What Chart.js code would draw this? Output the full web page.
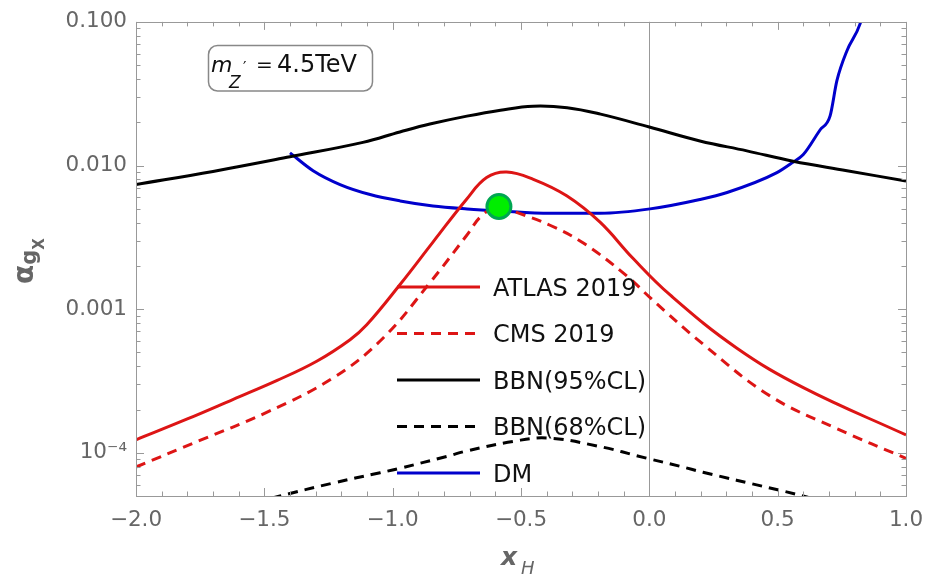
<!DOCTYPE html>
<html>
<head>
<meta charset="utf-8">
<script src="https://cdn.jsdelivr.net/npm/chart.js@4.4.0/dist/chart.umd.min.js"></script>
<style>
  html, body { margin: 0; padding: 0; background: #fff; }
</style>
</head>
<body>
<canvas id="chart" width="941" height="577"></canvas>
<script>
// curves (x_H, alpha_gX)
const atlasX = [-2.0, -1.8, -1.621, -1.45, -1.296, -1.166, -1.101, -0.972, -0.843, -0.712, -0.634, -0.556, -0.452, -0.322, -0.192, -0.063, 0.081, 0.340, 0.600, 1.0];
const atlasY = [1.232e-4, 1.72e-4, 2.357e-4, 3.19e-4, 4.34e-4, 6.13e-4, 7.78e-4, 1.478e-3, 2.93e-3, 5.83e-3, 8.24e-3, 9.02e-3, 8.02e-3, 6.16e-3, 4.03e-3, 2.25e-3, 1.255e-3, 5.37e-4, 2.84e-4, 1.33e-4];

const cmsX = [-2.0, -1.751, -1.491, -1.231, -1.037, -0.855, -0.712, -0.653, -0.586, -0.517, -0.387, -0.257, -0.088, 0.003, 0.210, 0.470, 0.730, 1.0];
const cmsY = [7.96e-5, 1.219e-4, 1.91e-4, 3.33e-4, 6.3e-4, 1.527e-3, 3.257e-3, 4.478e-3, 5.19e-3, 4.72e-3, 3.838e-3, 2.884e-3, 1.706e-3, 1.202e-3, 5.69e-4, 2.49e-4, 1.474e-4, 9.15e-5];

const bbn95X = [-2.0, -1.7, -1.4, -1.116, -0.972, -0.855, -0.711, -0.58, -0.453, -0.32, -0.19, 0.0, 0.197, 0.38, 0.56, 0.77, 1.0];
const bbn95Y = [0.00737, 0.0091, 0.0115, 0.01449, 0.01712, 0.01944, 0.02208, 0.02429, 0.02588, 0.02527, 0.02279, 0.01853, 0.01483, 0.01265, 0.01071, 0.00921, 0.00779];

const bbn68X = [-1.6, -1.439, -1.233, -1.049, -0.972, -0.788, -0.710, -0.531, -0.399, -0.204, -0.009, 0.120, 0.209, 0.470, 0.599, 0.75];
const bbn68Y = [4.2e-5, 5.0e-5, 6.15e-5, 7.26e-5, 7.8e-5, 9.44e-5, 1.031e-4, 1.199e-4, 1.268e-4, 1.116e-4, 9.15e-5, 8.05e-5, 7.32e-5, 5.68e-5, 5.0e-5, 4.2e-5];

const dmX = [-1.400, -1.310, -1.205, -1.088, -0.971, -0.843, -0.710, -0.582, -0.387, -0.192, 0.003, 0.197, 0.303, 0.497, 0.556, 0.599, 0.665, 0.704, 0.731, 0.770, 0.821, 0.826];
const dmY = [0.01226, 0.00920, 0.00737, 0.00628, 0.00567, 0.00523, 0.00499, 0.00483, 0.00465, 0.00465, 0.00499, 0.00580, 0.00649, 0.00892, 0.01045, 0.01187, 0.01767, 0.02207, 0.03913, 0.0630, 0.0969, 0.105];

const benchX = [-0.586];
const benchY = [0.00519];

const xTickVals = [-2, -1.5, -1, -0.5, 0, 0.5, 1];
const xTickLabels = ['\u22122.0', '\u22121.5', '\u22121.0', '\u22120.5', '0.0', '0.5', '1.0'];
const yTickVals = [1e-4, 1e-3, 1e-2, 1e-1];
const yTickLabels = ['10\u207B\u2074', '0.001', '0.010', '0.100'];

const FONT = "'DejaVu Sans', sans-serif";
const GRAY = '#666';
const EDGE = '#999';

function pts(xs, ys) {
    return xs.map((x, i) => ({ x: x, y: ys[i] }));
}

function curve(label, xs, ys, color, dash, smooth) {
    return {
        label: label,
        data: pts(xs, ys),
        borderColor: color,
        borderWidth: 3,
        borderDash: dash,
        pointRadius: 0,
        fill: false,
        tension: 0.4,
        cubicInterpolationMode: smooth,
        order: 2
    };
}

const datasets = [
    curve('ATLAS 2019', atlasX, atlasY, '#dd1515', [], 'default'),
    curve('CMS 2019', cmsX, cmsY, '#dd1515', [10, 7], 'default'),
    curve('BBN(95%CL)', bbn95X, bbn95Y, '#000', [], 'default'),
    curve('BBN(68%CL)', bbn68X, bbn68Y, '#000', [10, 7], 'default'),
    curve('DM', dmX, dmY, '#0000cc', [], 'monotone'),
    {
        label: 'point',
        data: pts(benchX, benchY),
        showLine: false,
        pointRadius: 12,
        pointBackgroundColor: '#00ee00',
        pointBorderColor: '#00a651',
        pointBorderWidth: 3,
        order: 0,
        noLegend: true
    }
];

// frame with inward ticks, zero line, legend, label box, axis titles
const decor = {
    id: 'decor',
    beforeDatasetsDraw(chart) {
        const { ctx, chartArea: a, scales: { x } } = chart;
        const x0 = Math.round(x.getPixelForValue(0)) + 0.5;
        ctx.save();
        ctx.strokeStyle = EDGE;
        ctx.lineWidth = 1;
        ctx.beginPath();
        ctx.moveTo(x0, a.top);
        ctx.lineTo(x0, a.bottom);
        ctx.stroke();
        ctx.restore();
    },
    afterDraw(chart) {
        const { ctx, chartArea: a, scales: { x, y } } = chart;
        ctx.save();
        ctx.strokeStyle = EDGE;
        ctx.lineWidth = 1;
        ctx.strokeRect(Math.round(a.left) + 0.5, Math.round(a.top) + 0.5,
            Math.round(a.right - a.left), Math.round(a.bottom - a.top));

        ctx.beginPath();
        for (let k = -20; k <= 10; k++) {
            const px = Math.round(x.getPixelForValue(k / 10)) + 0.5;
            const len = (k % 5 === 0) ? 8 : 4.5;
            ctx.moveTo(px, a.bottom); ctx.lineTo(px, a.bottom - len);
            ctx.moveTo(px, a.top); ctx.lineTo(px, a.top + len);
        }
        for (let e = -5; e <= -1; e++) {
            for (let m = 1; m <= 9; m++) {
                const v = m * Math.pow(10, e);
                if (v < y.min * 0.999 || v > y.max * 1.001) continue;
                const py = Math.round(y.getPixelForValue(v)) + 0.5;
                const len = (m === 1) ? 8 : 4.5;
                ctx.moveTo(a.left, py); ctx.lineTo(a.left + len, py);
                ctx.moveTo(a.right, py); ctx.lineTo(a.right - len, py);
            }
        }
        ctx.stroke();

        // legend
        const rows = chart.data.datasets.filter(d => !d.noLegend);
        rows.forEach((d, i) => {
            const ry = 287 + i * 46.5;
            ctx.strokeStyle = d.borderColor;
            ctx.lineWidth = 3;
            ctx.setLineDash(d.borderDash);
            ctx.beginPath();
            ctx.moveTo(397, ry);
            ctx.lineTo(480, ry);
            ctx.stroke();
            ctx.setLineDash([]);
            ctx.fillStyle = '#111';
            ctx.font = '24px ' + FONT;
            ctx.textBaseline = 'alphabetic';
            ctx.textAlign = 'left';
            ctx.fillText(d.label, 493, ry + 8.8);
        });

        // m_Z' label box
        ctx.strokeStyle = '#888';
        ctx.lineWidth = 1.5;
        ctx.beginPath();
        ctx.roundRect(208.5, 45.5, 164, 45.5, 9);
        ctx.stroke();
        ctx.fillStyle = '#111';
        ctx.font = 'italic 22px ' + FONT;
        ctx.fillText('m', 211, 72);
        ctx.font = 'italic 17px ' + FONT;
        ctx.fillText('Z', 229, 88);
        ctx.font = '15px ' + FONT;
        ctx.fillText('\u2032', 243, 73);
        ctx.font = '20px ' + FONT;
        ctx.fillText('=', 256, 71);
        ctx.font = '24px ' + FONT;
        ctx.fillText('4.5TeV', 277, 72);

        // axis titles
        ctx.fillStyle = GRAY;
        ctx.save();
        ctx.translate(33, 284);
        ctx.rotate(-Math.PI / 2);
        ctx.font = 'bold 28px ' + FONT;
        ctx.fillText('\u03B1', 0, 0);
        const aw = ctx.measureText('\u03B1').width;
        ctx.font = 'bold 21px ' + FONT;
        ctx.fillText('g', aw, 3);
        const gw = ctx.measureText('g').width;
        ctx.font = 'bold 15px ' + FONT;
        ctx.fillText('X', aw + gw, 11);
        ctx.restore();

        ctx.font = 'bold italic 25px ' + FONT;
        ctx.fillText('x', 501, 565);
        ctx.font = 'italic 18px ' + FONT;
        ctx.fillText('H', 521, 574);
        ctx.restore();
    }
};

const config = {
    type: 'line',
    data: { datasets: datasets },
    options: {
        responsive: false,
        animation: false,
        layout: { padding: { left: 0, top: 18, right: 35, bottom: 0 } },
        plugins: {
            legend: { display: false },
            tooltip: { enabled: false }
        },
        scales: {
            x: {
                type: 'linear',
                min: -2,
                max: 1,
                grid: { display: false, drawTicks: false },
                border: { display: false },
                afterBuildTicks: s => { s.ticks = xTickVals.map(v => ({ value: v })); },
                afterFit: s => { s.height = 81; },
                ticks: {
                    color: GRAY,
                    padding: 12,
                    autoSkip: false,
                    maxRotation: 0,
                    font: { family: FONT, size: 21.5 },
                    callback: v => xTickLabels[xTickVals.indexOf(v)]
                }
            },
            y: {
                type: 'logarithmic',
                min: 5e-5,
                max: 0.1,
                grid: { display: false, drawTicks: false },
                border: { display: false },
                afterBuildTicks: s => { s.ticks = yTickVals.map(v => ({ value: v })); },
                afterFit: s => { s.width = 136; },
                ticks: {
                    color: GRAY,
                    padding: 9,
                    autoSkip: false,
                    font: { family: FONT, size: 21.5 },
                    callback: v => yTickLabels[yTickVals.indexOf(v)]
                }
            }
        }
    },
    plugins: [decor]
};

new Chart(document.getElementById('chart'), config);
</script>
</body>
</html>
